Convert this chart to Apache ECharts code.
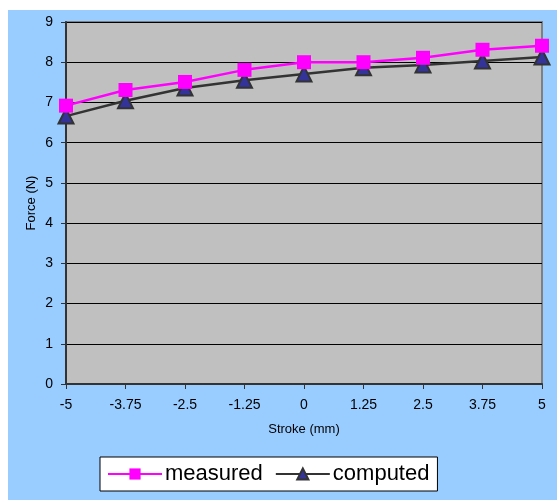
<!DOCTYPE html>
<html><head><meta charset="utf-8">
<script src="https://cdn.jsdelivr.net/npm/echarts@6/dist/echarts.min.js"></script>
<style>html,body{margin:0;padding:0;background:#fff;}#c{position:absolute;left:8px;top:10px;width:549px;height:490px;background:#99CCFF;}</style>
</head><body><div id="c"></div>
<script>
var strokes = [-5, -3.75, -2.5, -1.25, 0, 1.25, 2.5, 3.75, 5];
var measured = [6.92, 7.31, 7.51, 7.81, 8.0, 8.0, 8.11, 8.31, 8.41];
var computed = [6.66, 7.04, 7.36, 7.55, 7.71, 7.86, 7.93, 8.03, 8.13];
var seriesNames = ['measured', 'computed'];
var xTitle = 'Stroke (mm)', yTitle = 'Force (N)';

function pairs(ys){ return strokes.map(function(x,i){return [x, ys[i]];}); }
var font = '"Liberation Sans", Arial, sans-serif';
var chart = echarts.init(document.getElementById('c'), null, {renderer:'canvas'});
chart.setOption({
  animation: false,
  backgroundColor: '#99CCFF',
  grid: {left: 58, right: 15, top: 12, bottom: 116, show: true, backgroundColor: '#C0C0C0', borderColor: '#808080', borderWidth: 2, containLabel: false},
  xAxis: {
    type: 'value', min: -5, max: 5, interval: 1.25,
    name: xTitle, nameLocation: 'middle', nameGap: 39, nameMoveOverlap: false,
    nameTextStyle: {fontFamily: font, fontSize: 13, color: '#000'},
    axisLine: {show: true, onZero: false, lineStyle: {color: '#333', width: 2}},
    axisTick: {show: true, length: 5, lineStyle: {color: '#333', width: 1}},
    axisLabel: {fontFamily: font, fontSize: 14, color: '#000', margin: 14},
    splitLine: {show: false}
  },
  yAxis: {
    type: 'value', min: 0, max: 9, interval: 1,
    name: yTitle, nameLocation: 'middle', nameGap: 28, nameRotate: 90, nameMoveOverlap: false,
    nameTextStyle: {fontFamily: font, fontSize: 13, color: '#000'},
    axisLine: {show: true, onZero: false, lineStyle: {color: '#333', width: 2}},
    axisTick: {show: true, length: 5, lineStyle: {color: '#333', width: 1}},
    axisLabel: {fontFamily: font, fontSize: 14, color: '#000', margin: 13},
    splitLine: {show: true, lineStyle: {color: '#000', width: 1}}
  },
  legend: {
    left: 92, top: 447, orient: 'horizontal',
    backgroundColor: '#fff', borderColor: '#000', borderWidth: 1,
    padding: [6, 8, 6, 7], itemGap: 12, itemWidth: 54, itemHeight: 14,
    textStyle: {fontFamily: font, fontSize: 22, color: '#000', padding: [0,0,0,-2]},
    data: seriesNames
  },
  series: [
    {name: seriesNames[0], type: 'line', data: pairs(measured), symbol: 'rect', symbolSize: 14,
     lineStyle: {color: '#FF00FF', width: 2.5}, itemStyle: {color: '#FF00FF'}, z: 3},
    {name: seriesNames[1], type: 'line', data: pairs(computed), symbol: 'triangle', symbolSize: 15,
     lineStyle: {color: '#333333', width: 2.5}, itemStyle: {color: '#333399', borderColor: '#333333', borderWidth: 2}, z: 2}
  ]
});
</script></body></html>
